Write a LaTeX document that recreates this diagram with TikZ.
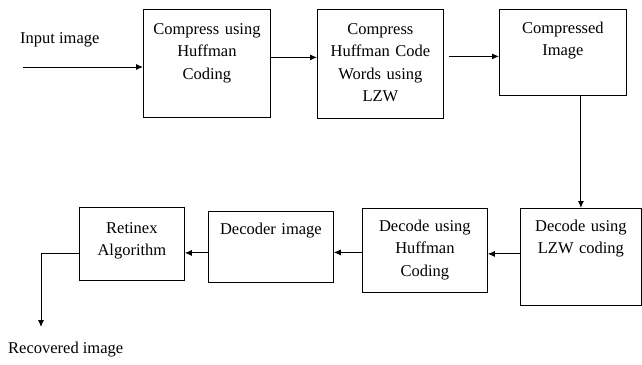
\documentclass[tikz,border=0pt]{standalone}
\usepackage{fontspec}
\setmainfont{Liberation Serif}
\usetikzlibrary{arrows.meta}
\begin{document}
\begin{tikzpicture}[x=1pt, y=-1pt]

\tikzstyle{box}=[rectangle, draw, line width=0.8pt, inner sep=0pt, anchor=north west, align=center, font=\fontsize{16.5}{22.5}\selectfont]
\tikzstyle{txt}=[inner sep=0pt, anchor=base west, font=\fontsize{16.5}{22.5}\selectfont]
\tikzstyle{arrow}=[-{Latex[length=7pt,width=6pt]}, line width=0.9pt]

\useasboundingbox (0,0) rectangle (642,364);

\node (box1) [box, text width=127pt, text height=25pt, text depth=83pt] at (143,9) {Compress using\\ Huffman\\ Coding};
\node (box2) [box, text width=126pt, text height=25pt, text depth=84pt] at (317,9) {Compress\\ Huffman Code\\ Words using\\ LZW};
\node (box3) [box, text width=127pt, text height=24pt, text depth=62pt] at (499,9) {Compressed\\ Image};
\node (box4) [box, text width=121pt, text height=23pt, text depth=74pt] at (520,208) {Decode using\\ LZW coding};
\node (box5) [box, text width=125pt, text height=23pt, text depth=61pt] at (362,208) {Decode using\\ Huffman\\ Coding};
\node (box6) [box, text width=125pt, text height=23pt, text depth=48pt] at (208,211) {Decoder image};
\node (box7) [box, text width=105pt, text height=26pt, text depth=47pt] at (79,207) {Retinex\\ Algorithm};

\node (inTxt) [txt] at (20,43) {Input image};
\node (outTxt) [txt] at (8,353) {Recovered image};
\coordinate (inStart) at (23,67);
\coordinate (outEnd) at (41,327);

\draw [arrow] (inStart) -- (inStart -| box1.west);
\draw [arrow] ([yshift=6pt]box1.east) -- ([yshift=6pt]box1.east -| box2.west);
\draw [arrow] ([xshift=5pt,yshift=-4pt]box3.west -| box2.east) -- ([yshift=-4pt]box3.west);
\draw [arrow] (box3.south -| box4.north) -- (box4.north);
\draw [arrow] ([yshift=3pt]box4.west) -- ([yshift=3pt]box4.west -| box5.east);
\draw [arrow] ([yshift=-2pt]box5.west) -- ([yshift=-2pt]box5.west -| box6.east);
\draw [arrow] ([yshift=-6pt]box6.west) -- ([yshift=-6pt]box6.west -| box7.east);
\draw [arrow] ([yshift=-9.5pt]box7.west) -| (outEnd);

\end{tikzpicture}
\end{document}
